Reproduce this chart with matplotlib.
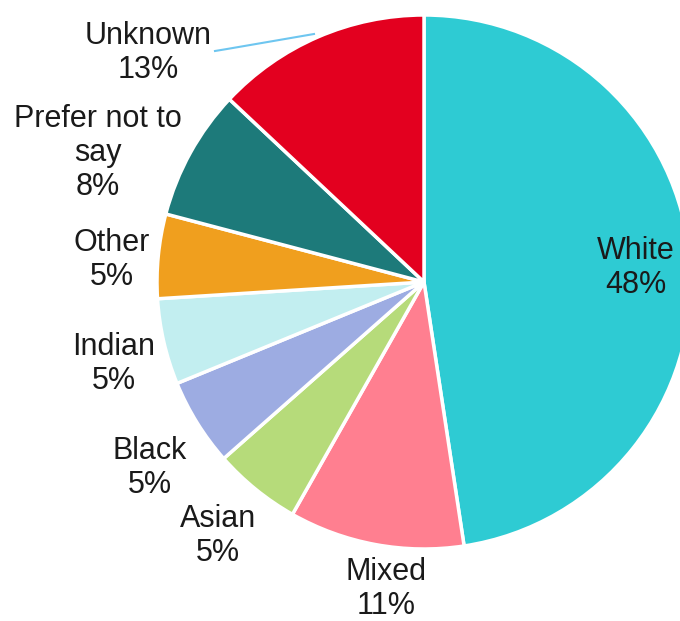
import matplotlib
matplotlib.use("Agg")
import matplotlib.pyplot as plt

categories = ["White", "Mixed", "Asian", "Black", "Indian", "Other", "Prefer not to\nsay", "Unknown"]
values = [47.6, 10.6, 5.3, 5.3, 5.2, 5.1, 7.9, 13.0]
colors = ["#2ECBD3", "#FF7F90", "#B6DB7A", "#9DACE2", "#C2EEF0", "#F09F1E", "#1D7A7A", "#E3001F"]

# label centres in pixel coords (layout)
label_px = [(636, 268), (386, 589), (218, 536), (150, 468), (114, 364), (112, 260), (98, 153), (148, 53)]

W, H = 680, 621
cx, cy, R = 424, 282, 267

plt.rcParams['font.family'] = ['Liberation Sans', 'DejaVu Sans']
fig = plt.figure(figsize=(W / 100, H / 100), dpi=100)
ax = fig.add_axes([0, 0, 1, 1])

ax.pie(values, colors=colors, startangle=90, counterclock=False, radius=1,
       wedgeprops=dict(edgecolor='white', linewidth=2.5))
ax.set_aspect('auto')
ax.set_xlim(-cx / R, (W - cx) / R)
ax.set_ylim(-(H - cy) / R, cy / R)
ax.axis('off')

def to_data(px, py):
    return (px - cx) / R, (cy - py) / R

total = sum(values)
for cat, v, (px, py) in zip(categories, values, label_px):
    x, y = to_data(px, py)
    ax.text(x, y, f"{cat}\n{v / total * 100:.0f}%", ha='center', va='center',
            fontsize=22, linespacing=1.18, color='#1a1a1a')

# leader line for Unknown
pts = [to_data(215, 51), to_data(227, 49), to_data(314, 34)]
ax.plot([p[0] for p in pts], [p[1] for p in pts], color='#6EC6F0', lw=1.5)

fig.savefig("out.png", dpi=100)
